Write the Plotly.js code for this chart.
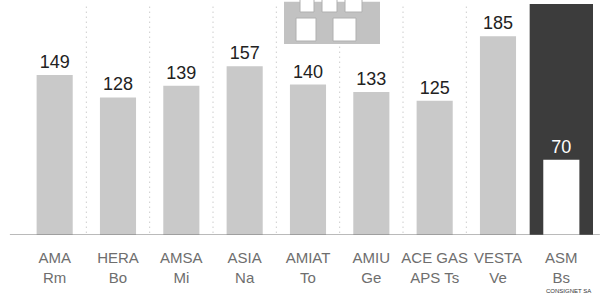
<!DOCTYPE html>
<html><head><meta charset="utf-8">
<script src="https://cdn.plot.ly/plotly-3.0.1.min.js"></script>
<style>html,body{margin:0;padding:0;background:#fff}#chart{width:602px;height:299px}</style>
</head><body><div id="chart"></div>
<script>
var companies = ["AMA","HERA","AMSA","ASIA","AMIAT","AMIU","ACE GAS","VESTA","ASM"];
var cities = ["Rm","Bo","Mi","Na","To","Ge","APS Ts","Ve","Bs"];
var values = [149,128,139,157,140,133,125,185,70];
var highlight = "ASM";

var tickText = companies.map(function(c,i){return c+"<br>"+cities[i];});
var barColors = companies.map(function(c){return c===highlight?"#ffffff":"#c9c9c9";});
var textColors = companies.map(function(c){return c===highlight?"#ffffff":"#222222";});
var hiIdx = companies.indexOf(highlight);

var shapes = [];
// dark highlight column
shapes.push({type:"rect", xref:"x", yref:"paper", x0:hiIdx-0.5, x1:hiIdx+0.5, y0:0, y1:1.0, fillcolor:"#3c3c3c", line:{width:0}, layer:"below"});
// dotted separators
for (var k=0;k<hiIdx-1;k++){
  shapes.push({type:"line", xref:"x", yref:"paper", x0:k+0.5, x1:k+0.5, y0:0.01, y1:0.99, line:{color:"#b5b5b5", width:1, dash:"1px,4px"}, layer:"below"});
}
// baseline
shapes.push({type:"line", xref:"paper", yref:"y", x0:-0.023, x1:1.012, y0:0, y1:0, line:{color:"#777", width:1.2}});
// decorative pictogram at top
shapes.push({type:"rect", xref:"paper", yref:"paper", x0:(284-23)/570, x1:(380-23)/570, y0:(235-44)/231, y1:1.01, fillcolor:"#c2c2c2", line:{width:0}});
var holes = [[296,316,18,41],[333,356,18,41],[300,314,-2,12],[322,337,-2,12],[345,362,-2,12]];
holes.forEach(function(h){
  shapes.push({type:"rect", xref:"paper", yref:"paper", x0:(h[0]-23)/570, x1:(h[1]-23)/570, y0:(235-h[3])/231, y1:(235-h[2])/231, fillcolor:"#ffffff", line:{color:"#b0b0b0", width:1}});
});

var trace = {
  type:"bar", x:companies, y:values,
  marker:{color:barColors, line:{width:0}},
  text:values.map(String), textposition:"outside", cliponaxis:false,
  textfont:{family:"'Liberation Sans Narrow','Arial Narrow','Liberation Sans',sans-serif", size:18, color:textColors},
  hoverinfo:"none"
};

var layout = {
  width:602, height:299,
  margin:{l:23, r:9, t:4, b:64},
  paper_bgcolor:"#fff", plot_bgcolor:"rgba(0,0,0,0)",
  bargap:0.43,
  showlegend:false,
  xaxis:{type:"category", tickvals:companies, ticktext:tickText, showgrid:false, zeroline:false, showline:false, ticks:"", ticklabelstandoff:12,
         tickfont:{family:"'Liberation Sans',Arial,sans-serif", size:15, color:"#6e6e6e"}, range:[-0.5,8.5], fixedrange:true},
  yaxis:{range:[0,215], visible:false, fixedrange:true},
  shapes:shapes,
  annotations:[{text:"CONSIGNET SA", xref:"paper", yref:"paper", x:1.0, y:-0.222, xanchor:"right", yanchor:"top", showarrow:false,
    font:{family:"'Liberation Sans',Arial,sans-serif", size:6, color:"#333"}}]
};
Plotly.newPlot("chart",[trace],layout,{displayModeBar:false, staticPlot:true});
</script></body></html>
